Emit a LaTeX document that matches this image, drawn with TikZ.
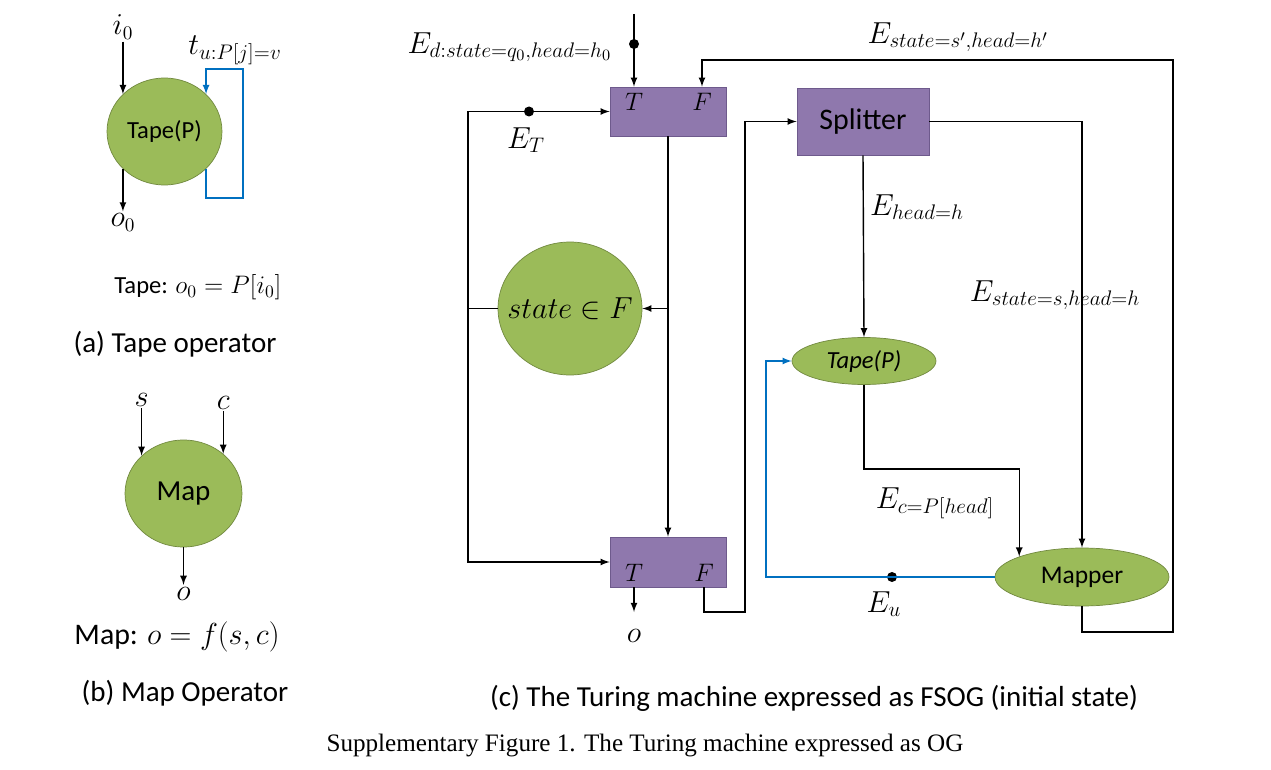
\documentclass[tikz,border=0pt]{standalone}
\usepackage{fontspec}
\setmainfont{Carlito}
\newfontfamily\capfont{Liberation Serif}
\usetikzlibrary{positioning,shapes.geometric,arrows,calc}
\definecolor{opgreen}{HTML}{9BBB59}
\definecolor{opgreenline}{HTML}{71893F}
\definecolor{oppurple}{HTML}{8F78AD}
\definecolor{oppurpleline}{HTML}{6E5A8C}
\definecolor{edgeblue}{HTML}{0070C0}

\begin{document}
\begin{tikzpicture}[x=0.02cm,y=-0.02cm,>=latex,
  op/.style={ellipse, draw=opgreenline, fill=opgreen, inner sep=0pt},
  gate/.style={rectangle, draw=oppurpleline, fill=oppurple, inner sep=0pt},
  edge/.style={line width=0.8pt},
  uedge/.style={line width=0.8pt, draw=edgeblue},
  dot/.style={circle, fill=black, inner sep=0pt, minimum size=0.2cm},
  lbl/.style={font=\fontsize{16}{18}\selectfont, inner sep=1pt},
  elbl/.style={font=\fontsize{18}{20}\selectfont, inner sep=1pt},
  tf/.style={font=\fontsize{14.5}{16}\selectfont, inner sep=1pt},
  captext/.style={font=\fontsize{16.5}{19}\selectfont}]

  \useasboundingbox (0,0) rectangle (1271,770);

  % (a) Tape operator
  \node [op, minimum width=2.3cm, minimum height=2.14cm,
         font=\fontsize{14}{16}\selectfont] (tapeA) at (164.5,131.5) {Tape(P)};
  \node [lbl, above=1.05cm of tapeA.138] (i0) {$i_0$};
  \node [lbl, below=0.85cm of tapeA.222] (o0) {$o_0$};
  \draw [edge, ->] (i0) -- (tapeA.138);
  \draw [edge, ->] (tapeA.222) -- (o0);
  \draw [uedge, ->] (tapeA.318) -- ++(0,29) -- ++(37,0) -- ++(0,-129)
                    -- ++(-37,0) -- (tapeA.42);
  \node [elbl] (tLbl) at (235,50) {$t_{u:P[j]=v}$};
  \node [font=\fontsize{14}{17}\selectfont] (tapeEq) at (198,287) {Tape: $o_0 = P[i_0]$};
  \node [captext] (capA) at (175,344) {(a) Tape operator};

  % (b) Map operator
  \node [op, minimum width=2.34cm, minimum height=2.14cm,
         font=\fontsize{16.5}{18}\selectfont] (mapA) at (183.5,493.5) {Map};
  \node [lbl, above=0.95cm of mapA.138] (sIn) {$s$};
  \node [lbl, above=0.85cm of mapA.45] (cIn) {$c$};
  \node [lbl, below=0.75cm of mapA.south] (oMap) {$o$};
  \draw [edge, ->] (sIn) -- (mapA.138);
  \draw [edge, ->] (cIn) -- (mapA.45);
  \draw [edge, ->] (mapA.south) -- (oMap);
  \node [font=\fontsize{17}{19}\selectfont] (mapEq) at (177,637) {Map: $o = f(s,c)$};
  \node [captext] (capB) at (185,693) {(b) Map Operator};

  % (c) Turing machine
  \node [gate, minimum width=2.32cm, minimum height=0.98cm] (gate1) at (668,111.5) {};
  \node [gate, minimum width=2.32cm, minimum height=1.0cm] (gate2) at (668,562) {};
  \node [tf] (g1T) at (634,102) {$T$};
  \node [tf] (g1F) at (702,102) {$F$};
  \node [tf] (g2T) at (634,573) {$T$};
  \node [tf] (g2F) at (704,573) {$F$};
  \node [gate, minimum width=2.64cm, minimum height=1.34cm,
         font=\fontsize{17}{19}\selectfont] (splitter) at (863,121.5) {Splitter};
  \node [op, minimum width=2.88cm, minimum height=2.66cm,
         label={[font=\fontsize{16.5}{18}\selectfont]center:$state \in F$}] (inF) at (570,308.5) {};
  \node [op, minimum width=2.88cm, minimum height=0.94cm,
         font=\fontsize{14}{16}\selectfont\itshape] (tapeC) at (864,361) {Tape(P)};
  \node [op, minimum width=3.48cm, minimum height=1.16cm,
         font=\fontsize{14.5}{16}\selectfont] (mapper) at (1082,577) {Mapper};
  \node [lbl] (oOut) at (634,636) {$o$};

  \coordinate (dIn) at (634,14);
  \coordinate (split) at (468,308.5);
  \coordinate (join) at (745,612);
  \coordinate (cornerBR) at (1173,632);
  \coordinate (cornerTR) at (1173,60);
  \coordinate (uCorner) at (766,577);

  \node [dot] (dD) at (634,44) {};
  \node [dot] (dT) at (529,111.5) {};
  \node [dot] (dU) at (892,577) {};

  \draw [edge, ->] (dIn) -- (dD.center) -- (dD |- gate1.north);
  \draw [edge] (inF.west) -- (split);
  \draw [edge, ->] (split) |- (gate1.west);
  \draw [edge, ->] (split) |- (gate2.west);
  \draw [edge, ->] (gate1.south) -- (gate2.north);
  \draw [edge, ->] (gate1.south |- inF.east) -- (inF.east);
  \draw [edge, ->] (g2T |- gate2.south) -- (oOut |- 0,612);
  \draw [edge, ->] (g2F |- gate2.south) |- (join) |- (splitter.west);
  \draw [edge, ->] (splitter.south) -- (tapeC.north);
  \draw [edge, ->] (splitter.east) -| (mapper.north);
  \draw [edge, ->] (tapeC.south) -- ++(0,84) -| (mapper.162);
  \draw [edge, ->] (mapper.south) |- (cornerBR) -- (cornerTR) -| (gate1.north -| g1F);
  \draw [uedge, ->] (mapper.west) -- (uCorner) |- (tapeC.west);

  \node [elbl, anchor=east] (EdLbl) at (614,47) {$E_{d:state=q_0,head=h_0}$};
  \node [elbl] (ETLbl) at (526,140) {$E_T$};
  \node [elbl] (EsLbl) at (958,37) {$E_{state=s',head=h'}$};
  \node [elbl, anchor=west] (EhLbl) at (868,207) {$E_{head=h}$};
  \node [elbl] (EshLbl) at (1055,295) {$E_{state=s,head=h}$};
  \node [elbl] (EcLbl) at (935,503) {$E_{c=P[head]}$};
  \node [elbl] (EuLbl) at (884,604) {$E_u$};

  \node [captext] (capC) at (814,698) {(c) The Turing machine expressed as FSOG (initial state)};
  \node [font=\capfont\fontsize{14.3}{17}\selectfont] (figCap) at (645,745)
        {Supplementary Figure 1. The Turing machine expressed as OG};

\end{tikzpicture}
\end{document}
